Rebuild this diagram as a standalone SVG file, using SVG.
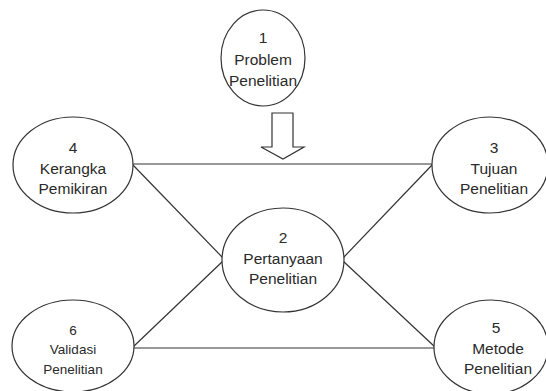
<svg xmlns="http://www.w3.org/2000/svg" width="546" height="391" viewBox="0 0 546 391">
<style>
.n ellipse{fill:#fff;stroke:#333;stroke-width:1.2}
.n text{font-family:"Liberation Sans",Arial,sans-serif;font-size:15.5px;fill:#2a2a2a;text-anchor:middle}
.n text.s{font-size:13.5px}
.c line{stroke:#333;stroke-width:1.2}
</style>
<rect width="546" height="391" fill="#fff"/>
<g id="connectors" class="c">
<line x1="133" y1="164" x2="432" y2="164"/>
<line x1="133" y1="165" x2="223" y2="258"/>
<line x1="432" y1="165" x2="343" y2="258"/>
<line x1="133" y1="347" x2="223" y2="261"/>
<line x1="435" y1="347" x2="343" y2="261"/>
<line x1="133" y1="348" x2="435" y2="348"/>
<polygon points="272,113 293,113 293,147 304,147 283,159 261,147 272,147" fill="#fff" stroke="#333" stroke-width="1.2"/>
</g>
<g id="node1" class="n">
<ellipse cx="263" cy="58" rx="42" ry="48"/>
<text x="263" y="43">1</text>
<text x="263" y="65">Problem</text>
<text x="263" y="86">Penelitian</text>
</g>
<g id="node4" class="n">
<ellipse cx="73" cy="165" rx="60" ry="48"/>
<text x="73" y="153">4</text>
<text x="73" y="174">Kerangka</text>
<text x="73" y="194">Pemikiran</text>
</g>
<g id="node3" class="n">
<ellipse cx="490" cy="165" rx="58" ry="48"/>
<text x="494" y="153">3</text>
<text x="494" y="174">Tujuan</text>
<text x="494" y="194">Penelitian</text>
</g>
<g id="node2" class="n">
<ellipse cx="283" cy="260" rx="61" ry="52"/>
<text x="283" y="243">2</text>
<text x="283" y="264">Pertanyaan</text>
<text x="283" y="284">Penelitian</text>
</g>
<g id="node6" class="n">
<ellipse cx="73" cy="346" rx="61" ry="46"/>
<text class="s" x="73" y="335">6</text>
<text class="s" x="73" y="354">Validasi</text>
<text class="s" x="73" y="374">Penelitian</text>
</g>
<g id="node5" class="n">
<ellipse cx="491" cy="347" rx="57" ry="47"/>
<text x="496" y="333">5</text>
<text x="498" y="354">Metode</text>
<text x="498" y="374">Penelitian</text>
</g>
</svg>
